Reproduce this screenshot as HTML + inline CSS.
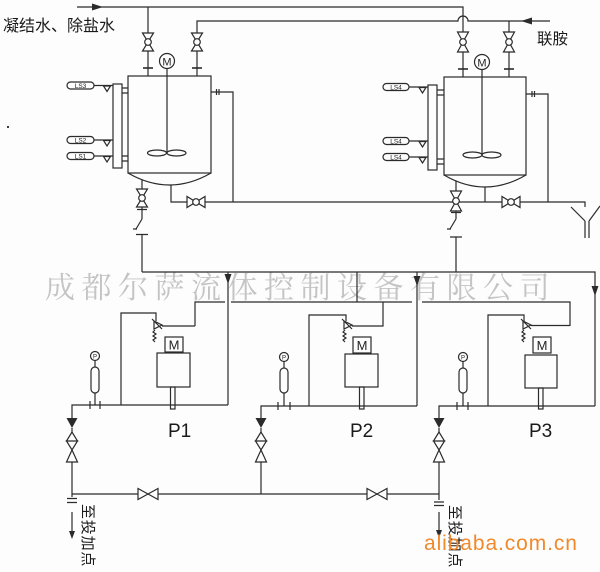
<!DOCTYPE html>
<html><head><meta charset="utf-8">
<style>
html,body{margin:0;padding:0;background:#fdfdfe;}
svg{display:block;}
</style></head><body>
<svg width="600" height="572" viewBox="0 0 600 572" xmlns="http://www.w3.org/2000/svg">
<rect width="600" height="572" fill="#fdfdfe"/>
<!-- watermark -->
<text x="45" y="298" font-family="'Noto Serif CJK SC','Noto Sans CJK SC',serif" font-size="30" letter-spacing="6.5" fill="#c4c4c4">成都尔萨流体控制设备有限公司</text>

<g stroke="#2b2b2b" stroke-width="1.2" fill="none" stroke-linejoin="miter">
  <!-- top feed lines -->
  <path d="M77,7 H463 V32"/>
  <path d="M148,7 V33"/>
  <path d="M148,51 V76"/><path d="M143,68 H153" stroke-width="1.6"/>
  <path d="M463,52 V77"/><path d="M458,69 H468" stroke-width="1.6"/>
  <path d="M197,33 V21 H458 A5,5 0 0 1 468,21 H550"/>
  <path d="M197,51 V76"/><path d="M192,68 H202" stroke-width="1.6"/>
  <path d="M509,21 V32"/><path d="M509,52 V77"/><path d="M504,69 H514" stroke-width="1.6"/>

  <!-- Tank 1 -->
  <rect x="128" y="76" width="83" height="97"/>
  <path d="M128,173 Q169.5,197 211,173"/>
  <path d="M167,68.5 V153"/>
  <ellipse cx="157" cy="153" rx="9.5" ry="3"/>
  <ellipse cx="176.5" cy="153" rx="9.5" ry="3"/>
  <rect x="113" y="84" width="9" height="84"/>
  <path d="M122,88 H128 M122,93 H128 M122,156 H128 M122,161 H128"/>
  <path d="M94,85.5 H113 M94,140 H113 M94,156 H113"/>
  <path d="M211,92 H233 V202"/>
  <path d="M216.5,89 V95 M219,89 V95"/>
  <path d="M171,185 V202 H585 V207"/>
  <path d="M142,180 V189"/>
  <path d="M142,207 V219 M137,209.5 H147 M142,219 L136,229 M133,229 H137 M136,234.5 H148 M142,234.5 V272"/>

  <!-- Tank 2 -->
  <rect x="444" y="77" width="82" height="98"/>
  <path d="M444,175 Q485,199 526,175"/>
  <path d="M482,69.5 V154"/>
  <ellipse cx="472.5" cy="155" rx="9.5" ry="3"/>
  <ellipse cx="491.5" cy="155" rx="9.5" ry="3"/>
  <rect x="428" y="85" width="9" height="85"/>
  <path d="M437,90 H444 M437,95 H444 M437,159 H444 M437,164 H444"/>
  <path d="M409,87 H428 M409,141 H428 M409,157 H428"/>
  <path d="M526,94 H548 V202"/>
  <path d="M532,91 V97 M534.5,91 V97"/>
  <path d="M485,187 V202"/>
  <path d="M456,181 V191"/>
  <path d="M456,211 V219 M451,212.5 H461 M456,219 L450,229 M447,229 H451 M450,237 H462 M456,237 V272"/>
  <!-- funnel -->
  <path d="M571,207 L585,221 M600,206 L589,221 M585,221 V238 M589,221 V238"/>

  <!-- header -->
  <path d="M142,272 H595 V406"/>
  <path d="M228,272 V405"/>
  <path d="M417,272 V406"/>
  <path d="M357,272 V302"/>
  <path d="M195,326 V302 H225 M231,302 H412 M422,302 H570 V326"/>
  <path d="M383,302 V326 H352"/>
  <path d="M195,326 H162"/>
  <path d="M570,325.5 H531"/>

  <!-- pump loops -->
  <path d="M121,405 V313 H156 V321"/>
  <path d="M309,406 V315 H346 V321"/>
  <path d="M488,406 V315 H524 V321"/>

  <!-- relief valves -->
  <path d="M154,321 L162,325 L154,329 Z M152,319 L162,329"/>
  <path d="M155,330 l-2,2 l3,2 l-3,2 l3,2 l-3,2 l2,2"/>
  <path d="M344,321 L352,325 L344,329 Z M342,319 L352,329"/>
  <path d="M345,330 l-2,2 l3,2 l-3,2 l3,2 l-3,2 l2,2"/>
  <path d="M523,321 L531,325 L523,329 Z M521,319 L531,329"/>
  <path d="M524,330 l-2,2 l3,2 l-3,2 l3,2 l-3,2 l2,2"/>

  <!-- pumps -->
  <rect x="165" y="337" width="18" height="15"/>
  <rect x="157" y="353" width="33" height="34"/>
  <rect x="170.5" y="387" width="4.5" height="22"/>
  <rect x="353" y="337" width="18" height="16"/>
  <rect x="345" y="354" width="33" height="33"/>
  <rect x="359.5" y="387" width="4.5" height="22"/>
  <rect x="533" y="337" width="18" height="16"/>
  <rect x="525" y="355" width="32" height="33"/>
  <rect x="538.5" y="388" width="4.5" height="21"/>

  <!-- discharge lines -->
  <path d="M72,418 V405 H228"/>
  <path d="M261,418 V406 H417"/>
  <path d="M439,418 V406 H595"/>

  <!-- gauges -->
  <circle cx="95" cy="356" r="4.5"/>
  <path d="M95,360.5 V367 M95,393 V405"/>
  <rect x="91" y="367" width="8" height="26" rx="4"/>
  <path d="M90,401 V409 M100,401 V409"/>
  <circle cx="284" cy="357" r="4.5"/>
  <path d="M284,361.5 V368 M284,393 V406"/>
  <rect x="280" y="368" width="8" height="25" rx="4"/>
  <path d="M278,402 V410 M290,402 V410"/>
  <circle cx="463" cy="357" r="4.5"/>
  <path d="M463,361.5 V368 M463,393 V406"/>
  <rect x="459" y="368" width="8" height="25" rx="4"/>
  <path d="M457,402 V410 M468,402 V410"/>

  <!-- valve stacks -->
  <path d="M72,428 V432 M72,462 V497"/>
  <path d="M72,432 L66.5,441 H77.5 Z M66.5,441 L77.5,441 L72,450 Z M72,450 L66.5,462 H77.5 Z"/>
  <path d="M261,428 V432 M261,462 V494"/>
  <path d="M261,432 L255.5,441 H266.5 Z M255.5,441 L266.5,441 L261,450 Z M261,450 L255.5,462 H266.5 Z"/>
  <path d="M439,428 V432 M439,462 V500"/>
  <path d="M439,432 L433.5,441 H444.5 Z M433.5,441 L444.5,441 L439,450 Z M439,450 L433.5,462 H444.5 Z"/>

  <!-- bottom line -->
  <path d="M72,494 H439"/>
  <path d="M67,498.5 H77 M67,502.5 H77"/>
  <path d="M434,502 H444 M434,505.5 H444"/>
  <path d="M72,512 V532"/>
  <path d="M439,512 V531"/>
</g>

<!-- white-filled valves -->
<g stroke="#2b2b2b" stroke-width="1.2" fill="#fdfdfe">
  <!-- vertical ball valves -->
  <path d="M142.5,33 H153.5 L142.5,51 H153.5 Z"/><circle cx="148" cy="42" r="3.3"/>
  <path d="M191.5,33 H202.5 L191.5,51 H202.5 Z"/><circle cx="197" cy="42" r="3.3"/>
  <path d="M457.5,32 H468.5 L457.5,52 H468.5 Z"/><circle cx="463" cy="42" r="3.3"/>
  <path d="M503.5,32 H514.5 L503.5,52 H514.5 Z"/><circle cx="509" cy="42" r="3.3"/>
  <path d="M136.5,189 H147.5 L136.5,207 H147.5 Z"/><circle cx="142" cy="198" r="3.3"/>
  <path d="M450.5,191 H461.5 L450.5,211 H461.5 Z"/><circle cx="456" cy="201" r="3.3"/>
  <!-- horizontal ball valves -->
  <path d="M187,196.5 V207.5 L205,196.5 V207.5 Z"/><circle cx="196" cy="202" r="3.3"/>
  <path d="M502,196.5 V207.5 L520,196.5 V207.5 Z"/><circle cx="511" cy="202" r="3.3"/>
  <!-- bottom gate valves -->
  <path d="M138,488.5 V499.5 L158,488.5 V499.5 Z"/>
  <path d="M367,488.5 V499.5 L387,488.5 V499.5 Z"/>
  <!-- motors -->
  <circle cx="167" cy="61" r="7.5"/>
  <circle cx="482" cy="62" r="7.5"/>
  <!-- LS pills -->
  <rect x="67" y="82" width="27" height="7" rx="3.5"/>
  <rect x="67" y="136.5" width="27" height="7" rx="3.5"/>
  <rect x="67" y="152.5" width="27" height="7" rx="3.5"/>
  <rect x="383" y="83.5" width="26" height="7" rx="3.5"/>
  <rect x="383" y="137.5" width="26" height="7" rx="3.5"/>
  <rect x="383" y="153.5" width="26" height="7" rx="3.5"/>
  <!-- level triangles -->
  <path d="M103.5,86 H110.5 L107,91.5 Z M103.5,140.5 H110.5 L107,146 Z M103.5,156.5 H110.5 L107,162 Z"/>
  <path d="M419,87.5 H426 L422.5,93 Z M419,141.5 H426 L422.5,147 Z M419,157.5 H426 L422.5,163 Z"/>
</g>

<!-- filled arrows -->
<g fill="#2b2b2b" stroke="none">
  <polygon points="92,3.5 103,7 92,10.5"/>
  <polygon points="532,17.5 521,21 532,24.5"/>
  <polygon points="224.5,274 231.5,274 228,284"/>
  <polygon points="413.5,276 420.5,276 417,286"/>
  <polygon points="591.5,286 598.5,286 595,296"/>
  <polygon points="66.5,418 77.5,418 72,428"/>
  <polygon points="255.5,418 266.5,418 261,428"/>
  <polygon points="433.5,418 444.5,418 439,428"/>
  <polygon points="69,531 75,531 72,539"/>
  <polygon points="436,530 442,530 439,538"/>
  <circle cx="8" cy="127" r="1.1"/>
</g>

<!-- labels -->
<g font-family="'Liberation Sans',Arial,sans-serif" fill="#222" text-anchor="middle">
  <text x="167" y="65.5" font-size="11">M</text>
  <text x="482" y="66.5" font-size="11">M</text>
  <text x="174" y="349.5" font-size="13">M</text>
  <text x="362" y="350" font-size="13">M</text>
  <text x="542" y="350" font-size="13">M</text>
  <text x="95" y="358.3" font-size="6">P</text>
  <text x="284" y="359.3" font-size="6">P</text>
  <text x="463" y="359.3" font-size="6">P</text>
  <text x="80.5" y="88" font-size="6.5">LS3</text>
  <text x="80.5" y="142.5" font-size="6.5">LS2</text>
  <text x="80.5" y="158.5" font-size="6.5">LS1</text>
  <text x="396" y="89.5" font-size="6.5">LS4</text>
  <text x="396" y="143.5" font-size="6.5">LS4</text>
  <text x="396" y="159.5" font-size="6.5">LS4</text>
</g>
<g font-family="'Liberation Sans',Arial,sans-serif" fill="#1a1a1a" font-size="19">
  <text x="168" y="437">P1</text>
  <text x="350" y="437">P2</text>
  <text x="529" y="437">P3</text>
</g>
<g font-family="'Liberation Sans','Noto Sans CJK SC',sans-serif" fill="#1a1a1a">
  <text x="3" y="31" font-size="16">凝结水、除盐水</text>
  <text x="537" y="44" font-size="15.5">联胺</text>
  <text transform="translate(83,504) rotate(90)" font-size="15" letter-spacing="0.8">至投加点</text>
  <text transform="translate(450,505) rotate(90)" font-size="15" letter-spacing="0.8">至投加点</text>
</g>
<text x="424" y="550" font-family="'Liberation Sans',Arial,sans-serif" font-size="21" letter-spacing="0.9" fill="#f0892a">alibaba.com.cn</text>
</svg>
</body></html>
